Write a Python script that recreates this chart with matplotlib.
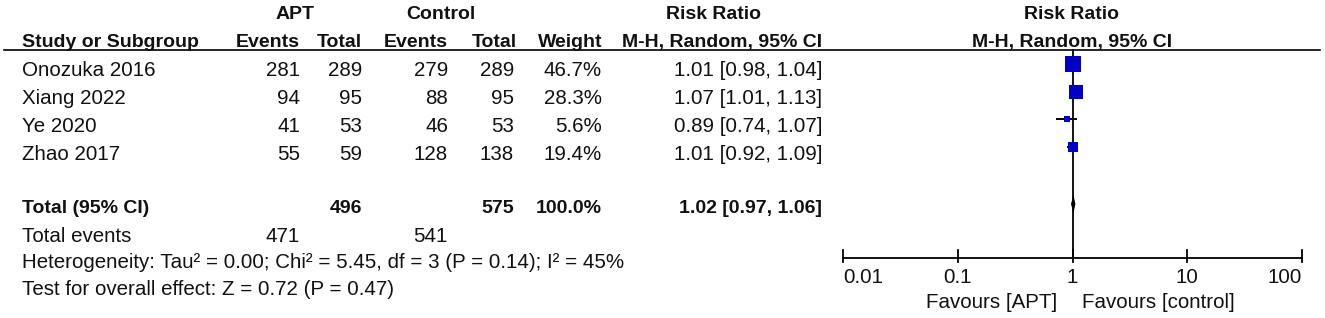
import numpy as np
import matplotlib
matplotlib.use("Agg")
import matplotlib.pyplot as plt

plt.rcParams['font.family'] = ['Liberation Sans', 'DejaVu Sans']

# study data
studies = ["Onozuka 2016", "Xiang 2022", "Ye 2020", "Zhao 2017"]
apt_events = [281, 94, 41, 55]
apt_total = [289, 95, 53, 59]
ctrl_events = [279, 88, 46, 128]
ctrl_total = [289, 95, 53, 138]
weights = [46.7, 28.3, 5.6, 19.4]
rr = [1.01, 1.07, 0.89, 1.01]
ci_lo = [0.98, 1.01, 0.74, 0.92]
ci_hi = [1.04, 1.13, 1.07, 1.09]

# pooled
tot_apt_total = 496
tot_ctrl_total = 575
tot_apt_events = 471
tot_ctrl_events = 541
tot_rr = 1.02
tot_lo = 0.97
tot_hi = 1.06
het_text = "Heterogeneity: Tau\u00b2 = 0.00; Chi\u00b2 = 5.45, df = 3 (P = 0.14); I\u00b2 = 45%"
effect_text = "Test for overall effect: Z = 0.72 (P = 0.47)"

tick_vals = [0.01, 0.1, 1, 10, 100]
tick_labels = ["0.01", "0.1", "1", "10", "100"]

W, H = 1325, 318
FS = 14.8   # regular text
FSB = 14    # bold text
fig = plt.figure(figsize=(W / 100, H / 100), dpi=100)

# text panel, pixel coordinates
ax = fig.add_axes([0, 0, 1, 1])
ax.set_xlim(0, W)
ax.set_ylim(H, 0)
ax.axis("off")

# column right edges
c_ae, c_at, c_ce, c_ct, c_w, c_rr = 300, 362, 448, 514, 602, 822
row_base = [76, 104, 132, 160]

def t(x, y, s, ha="right", bold=False):
    ax.text(x, y, s, ha=ha, va="baseline", fontsize=FSB if bold else FS,
            fontweight="bold" if bold else "normal", color="#111111")

# header
t(295, 19, "APT", ha="center", bold=True)
t(441, 19, "Control", ha="center", bold=True)
t(714, 19, "Risk Ratio", ha="center", bold=True)
t(1072, 19, "Risk Ratio", ha="center", bold=True)
t(22, 47, "Study or Subgroup", ha="left", bold=True)
t(c_ae, 47, "Events", bold=True)
t(c_at, 47, "Total", bold=True)
t(c_ce, 47, "Events", bold=True)
t(c_ct + 3, 47, "Total", bold=True)
t(c_w, 47, "Weight", bold=True)
t(c_rr, 47, "M-H, Random, 95% CI", bold=True)
t(1072, 47, "M-H, Random, 95% CI", ha="center", bold=True)
ax.plot([4, 1320], [50, 50], color="black", lw=1.2)

for i, name in enumerate(studies):
    y = row_base[i]
    t(22, y, name, ha="left")
    t(c_ae, y, str(apt_events[i]))
    t(c_at, y, str(apt_total[i]))
    t(c_ce, y, str(ctrl_events[i]))
    t(c_ct, y, str(ctrl_total[i]))
    t(c_w, y, f"{weights[i]:.1f}%")
    t(c_rr, y, f"{rr[i]:.2f} [{ci_lo[i]:.2f}, {ci_hi[i]:.2f}]")

t(22, 213, "Total (95% CI)", ha="left", bold=True)
t(c_at, 213, str(tot_apt_total), bold=True)
t(c_ct, 213, str(tot_ctrl_total), bold=True)
t(c_w, 213, "100.0%", bold=True)
t(c_rr, 213, f"{tot_rr:.2f} [{tot_lo:.2f}, {tot_hi:.2f}]", bold=True)
t(22, 242, "Total events", ha="left")
t(c_ae, 242, str(tot_apt_events))
t(c_ce, 242, str(tot_ctrl_events))
t(22, 268, het_text, ha="left")
t(22, 295, effect_text, ha="left")

# forest panel: log x, pixel y
x0, x1 = 843, 1302
fx = fig.add_axes([x0 / W, 0, (x1 - x0) / W, 1])
fx.set_xscale("log")
fx.set_xlim(tick_vals[0], tick_vals[-1])
fx.set_ylim(H, 0)
fx.axis("off")
for a in fig.axes:
    a.patch.set_alpha(0)

sq_y = [64, 92, 119, 147]
fx.plot([1, 1], [50, 258], color="black", lw=1.3, zorder=2)
for i in range(len(studies)):
    fx.plot([ci_lo[i], ci_hi[i]], [sq_y[i], sq_y[i]], color="black", lw=1.4, zorder=3)
    side = 2.45 * np.sqrt(weights[i]) / 1.389
    fx.plot(rr[i], sq_y[i], marker="s", ms=side, color="#0000C8",
            mec="#0000C8", mew=0, zorder=4)

dy = 204
fx.fill([tot_lo, tot_rr, tot_hi, tot_rr], [dy, dy - 9, dy, dy + 9],
        color="black", zorder=4, lw=0)

# axis
fx.plot([tick_vals[0], tick_vals[-1]], [258, 258], color="black", lw=1.3,
        clip_on=False)
for v, lab in zip(tick_vals, tick_labels):
    fx.plot([v, v], [250, 262], color="black", lw=1.3, clip_on=False)
    ha = "left" if v == tick_vals[0] else ("right" if v == tick_vals[-1] else "center")
    fx.text(v, 283, lab, ha=ha, va="baseline", fontsize=FS, color="#111111")

fx.text(0.73, 308, "Favours [APT]", ha="right", va="baseline", fontsize=FS, color="#111111")
fx.text(1.2, 308, "Favours [control]", ha="left", va="baseline", fontsize=FS, color="#111111")

fig.savefig("out.png", dpi=100)
